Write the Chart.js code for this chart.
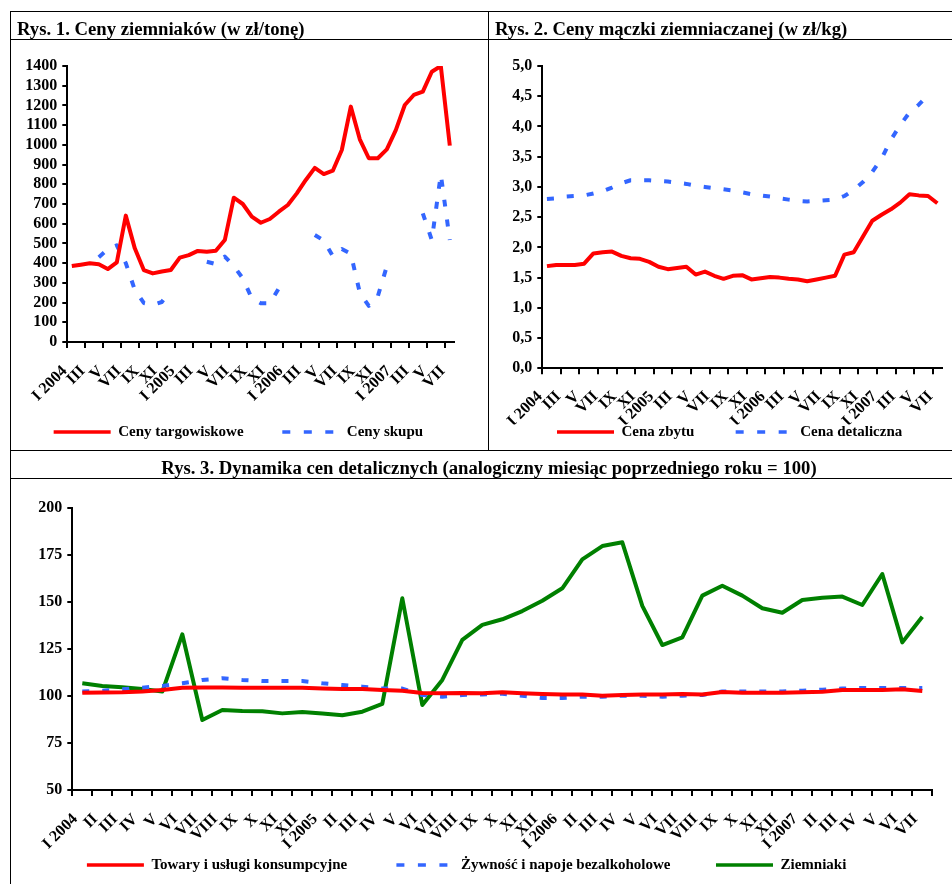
<!DOCTYPE html>
<html lang="pl">
<head>
<meta charset="utf-8">
<title>Ceny ziemniaków</title>
<script src="https://cdn.jsdelivr.net/npm/chart.js@4.4.0/dist/chart.umd.min.js"></script>
<style>
    html, body { margin: 0; padding: 0; background: #fff; }
    body { width: 952px; height: 884px; position: relative; overflow: hidden;
           font-family: 'Liberation Serif', 'Times New Roman', serif; }
    canvas { position: absolute; }
    .rule { position: absolute; background: #000; }
    .title { position: absolute; font-weight: bold; font-size: 18.7px; line-height: 20px;
             white-space: nowrap; color: #000; }
</style>
</head>
<body>
<canvas id="chart1" width="488" height="410" style="left:0;top:40px"></canvas>
<canvas id="chart2" width="500" height="410" style="left:489px;top:40px"></canvas>
<canvas id="chart3" width="980" height="405" style="left:0;top:479px"></canvas>

<div class="rule" style="left:10px;top:11px;width:960px;height:1px"></div>
<div class="rule" style="left:10px;top:11px;width:1px;height:880px"></div>
<div class="rule" style="left:488px;top:11px;width:1px;height:440px"></div>
<div class="rule" style="left:10px;top:39px;width:960px;height:1px"></div>
<div class="rule" style="left:10px;top:450px;width:960px;height:1px"></div>
<div class="rule" style="left:10px;top:478px;width:960px;height:1px"></div>

<div class="title" style="left:17px;top:19px">Rys. 1. Ceny ziemniaków (w zł/tonę)</div>
<div class="title" style="left:495px;top:19px">Rys. 2. Ceny mączki ziemniaczanej (w zł/kg)</div>
<div class="title" style="left:10px;top:458px;width:958px;text-align:center">Rys. 3. Dynamika cen detalicznych (analogiczny miesiąc poprzedniego roku = 100)</div>

<script>
// Categories: months I 2004 - VII 2007
const months = [
    'I 2004', 'II', 'III', 'IV', 'V', 'VI', 'VII', 'VIII', 'IX', 'X', 'XI', 'XII',
    'I 2005', 'II', 'III', 'IV', 'V', 'VI', 'VII', 'VIII', 'IX', 'X', 'XI', 'XII',
    'I 2006', 'II', 'III', 'IV', 'V', 'VI', 'VII', 'VIII', 'IX', 'X', 'XI', 'XII',
    'I 2007', 'II', 'III', 'IV', 'V', 'VI', 'VII'
];

// Rys. 1 - zł/tonę
const cenyTargowiskowe = [385, 392, 399, 394, 370, 404, 641, 475, 365, 348, 358, 365,
    428, 441, 462, 458, 463, 517, 732, 700, 636, 605, 624, 661,
    695, 754, 822, 883, 852, 869, 974, 1194, 1028, 932, 932, 977,
    1075, 1202, 1253, 1270, 1371, 1400, 996];
const cenySkupu = [null, null, null, 430, 470, 490, 400, 264, 198, 188, 203, 265,
    null, null, null, 407, 395, 433, 385, 323, 221, 196, 196, 272,
    null, null, null, 543, 515, 436, 472, 448, 250, 183, 232, 384,
    null, null, null, 653, 517, 850, 517];

// Rys. 2 - zł/kg
const cenaZbytu = [1.69, 1.71, 1.71, 1.71, 1.73, 1.90, 1.92, 1.93, 1.86, 1.82, 1.81, 1.76,
    1.68, 1.64, 1.66, 1.68, 1.55, 1.60, 1.53, 1.48, 1.53, 1.54, 1.47, 1.49,
    1.51, 1.50, 1.48, 1.47, 1.44, 1.47, 1.50, 1.53, 1.88, 1.92, 2.18, 2.44,
    2.54, 2.63, 2.74, 2.88, 2.86, 2.85, 2.73];
const cenaDetaliczna = [2.80, 2.81, 2.84, 2.85, 2.86, 2.89, 2.93, 2.99, 3.06, 3.11, 3.11, 3.11,
    3.10, 3.09, 3.07, 3.05, 3.02, 3.00, 2.98, 2.96, 2.94, 2.91, 2.88, 2.86,
    2.84, 2.81, 2.79, 2.77, 2.76, 2.77, 2.78, 2.79, 2.85, 2.95, 3.08, 3.25,
    3.47, 3.78, 4.02, 4.23, 4.36, 4.52, null];

// Rys. 3 - analogiczny miesiąc poprzedniego roku = 100
const towaryUslugi = [101.8, 101.9, 102.0, 102.4, 103.3, 104.4, 104.6, 104.6, 104.4, 104.5, 104.5, 104.4,
    104.0, 103.8, 103.8, 103.3, 102.9, 101.7, 101.5, 101.7, 101.5, 102.0, 101.5, 101.1,
    100.9, 100.9, 100.2, 100.6, 100.9, 100.9, 101.1, 100.9, 102.2, 101.8, 101.8, 101.8,
    102.0, 102.3, 103.3, 103.3, 103.3, 103.6, 102.7];
const zywnosc = [102.4, 102.9, 103.6, 104.5, 105.4, 106.8, 108.6, 109.5, 108.6, 108.0, 108.0, 108.0,
    106.8, 105.9, 105.0, 104.0, 104.0, 100.6, 99.7, 100.6, 100.9, 101.3, 100.2, 99.0,
    99.0, 99.7, 99.7, 100.2, 100.2, 99.7, 100.2, 100.6, 102.5, 102.4, 102.4, 102.5,
    102.9, 103.4, 104.0, 104.3, 104.3, 104.3, 104.3];
const ziemniaki = [106.8, 105.4, 104.7, 103.8, 102.4, 132.9, 87.3, 92.6, 92.1, 91.9, 90.8, 91.5,
    90.7, 89.8, 91.7, 95.8, 152.1, 95.3, 108.6, 129.9, 137.9, 140.9, 145.3, 150.8,
    157.4, 172.8, 179.9, 181.9, 148.0, 127.2, 131.3, 153.5, 158.8, 153.5, 146.8, 144.4,
    151.2, 152.4, 153.0, 148.5, 165.0, 128.6, 142.3];

Chart.defaults.font.family = "'Liberation Serif', 'Times New Roman', serif";
Chart.defaults.font.size = 16;
Chart.defaults.font.weight = 'bold';
Chart.defaults.color = '#000';

const colors = {
    red: '#ff0000',
    blue: '#3366ff',
    green: '#008000'
};
const dash = [7, 13];
const legendDash = [8, 13.5];

// legend entries drawn as short line samples; trailing spaces widen the gap between entries
function legendLabels(spaces) {
    return function(chart) {
        return chart.data.datasets.map((ds, i) => ({
            text: ds.label + ' '.repeat(spaces[i] || 0),
            fillStyle: ds.borderColor,
            strokeStyle: ds.borderColor,
            fontColor: '#000',
            lineWidth: 3.5,
            lineDash: ds.borderDash.length ? legendDash : [],
            lineCap: 'butt',
            pointStyle: 'line',
            hidden: false,
            datasetIndex: i
        }));
    };
}

function lineSet(label, data, color, dashed) {
    return {
        label: label,
        data: data,
        borderColor: color,
        backgroundColor: color,
        borderWidth: 4,
        borderDash: dashed ? dash : [],
        borderJoinStyle: 'round',
        pointRadius: 0,
        tension: 0,
        fill: false,
        spanGaps: false
    };
}

function everySecond(value, index) {
    return index % 2 === 0 ? months[index] : '';
}

function makeOptions(p) {
    return {
        responsive: false,
        animation: false,
        events: [],
        layout: { padding: { left: 0, right: p.legendRight, top: p.top, bottom: p.bottom } },
        plugins: {
            legend: {
                position: 'bottom',
                labels: {
                    usePointStyle: true,
                    pointStyleWidth: 57,
                    padding: p.legendGap,
                    font: { size: 15, weight: 'bold' },
                    generateLabels: legendLabels(p.spaces)
                }
            },
            tooltip: { enabled: false }
        },
        scales: {
            x: {
                offset: true,
                grid: { offset: true, drawOnChartArea: false, tickLength: 6, lineWidth: 2, color: p.tickColor },
                border: { color: '#000', width: 2 },
                ticks: {
                    autoSkip: false, minRotation: 45, maxRotation: 45,
                    padding: p.labelPad, labelOffset: -7, callback: p.xLabel
                },
                afterFit: function(scale) {
                    scale.height = p.xHeight;
                    scale.paddingRight = p.padRight;
                }
            },
            y: {
                min: p.min,
                max: p.max,
                grid: { drawOnChartArea: false, tickLength: 5, lineWidth: 2, color: '#000' },
                border: { color: '#000', width: 2 },
                ticks: { autoSkip: false, stepSize: p.step, padding: 5, callback: p.yLabel },
                afterFit: function(scale) {
                    scale.width = p.yWidth;
                }
            }
        }
    };
}

const evenTicks = ctx => (ctx.index % 2 === 0 ? '#000' : 'rgba(0,0,0,0)');

new Chart(document.getElementById('chart1'), {
    type: 'line',
    data: {
        labels: months,
        datasets: [
            lineSet('Ceny targowiskowe', cenyTargowiskowe, colors.red, false),
            lineSet('Ceny skupu', cenySkupu, colors.blue, true)
        ]
    },
    options: makeOptions({
        top: 26, bottom: 0.5, legendRight: 11.25, legendGap: 20, spaces: [5],
        xHeight: 62.5, padRight: 33.7, yWidth: 67.3, labelPad: 14,
        min: 0, max: 1400, step: 100,
        tickColor: evenTicks, xLabel: everySecond,
        yLabel: v => String(v)
    })
});

new Chart(document.getElementById('chart2'), {
    type: 'line',
    data: {
        labels: months,
        datasets: [
            lineSet('Cena zbytu', cenaZbytu, colors.red, false),
            lineSet('Cena detaliczna', cenaDetaliczna, colors.blue, true)
        ]
    },
    options: makeOptions({
        top: 26, bottom: 0.5, legendRight: 18.75, legendGap: 0, spaces: [11],
        xHeight: 56.2, padRight: 47, yWidth: 53.3, labelPad: 13,
        min: 0, max: 5, step: 0.5,
        tickColor: evenTicks, xLabel: everySecond,
        yLabel: v => v.toFixed(1).replace('.', ',')
    })
});

new Chart(document.getElementById('chart3'), {
    type: 'line',
    data: {
        labels: months,
        datasets: [
            lineSet('Towary i usługi konsumpcyjne', towaryUslugi, colors.red, false),
            lineSet('Żywność i napoje bezalkoholowe', zywnosc, colors.blue, true),
            lineSet('Ziemniaki', ziemniaki, colors.green, false)
        ]
    },
    options: makeOptions({
        top: 29.3, bottom: 1.5, legendRight: 46.75, legendGap: 8, spaces: [11, 10],
        xHeight: 59.5, padRight: 47.7, yWidth: 72.3, labelPad: 14,
        min: 50, max: 200, step: 25,
        tickColor: '#000', xLabel: (v, i) => months[i],
        yLabel: v => String(v)
    })
});
</script>
</body>
</html>
